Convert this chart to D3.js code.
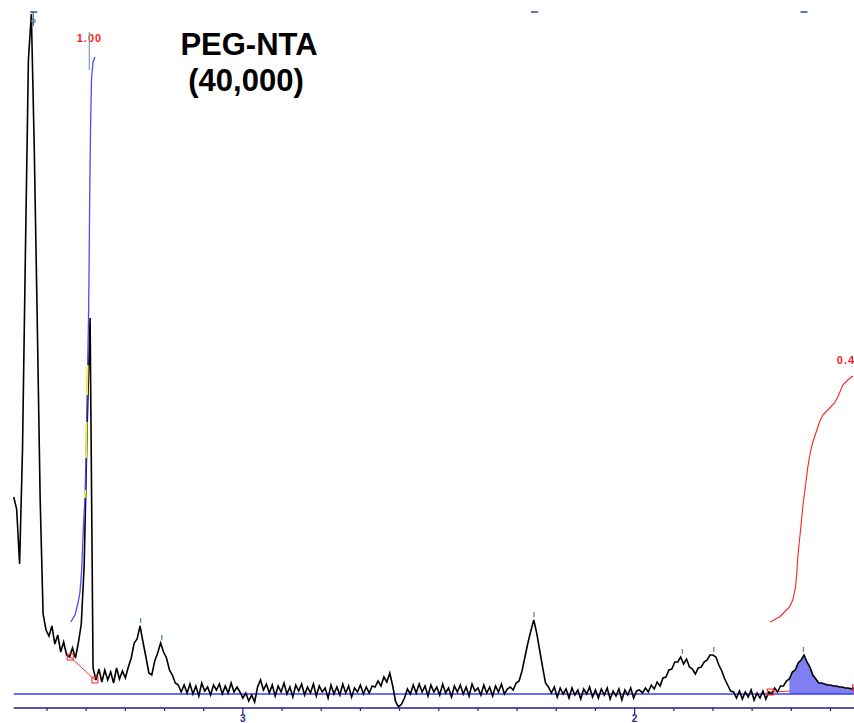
<!DOCTYPE html>
<html>
<head>
<meta charset="utf-8">
<script src="https://cdn.jsdelivr.net/npm/d3@7"></script>
<style>
  body { margin: 0; background: #fff; }
  svg { display: block; }
</style>
</head>
<body>
<div id="chart"></div>
<script>
// spectrum sampled every 0.0075 ppm starting at 3.585 ppm
var ppmStart = 3.585, ppmStep = 0.0075;
var intensity = [
  197,185,130,245,445,634,680,545,375,195,
  80,64,58,68,50,59,42,52,39,37,
  46,36,51,70,130,270,376,26,14,25,
  12,24,14,22,11,26,15,23,16,27,
  36,51,55,68,52,37,21,19,33,41,
  51,42,36,24,19,11,9,2,9,1,
  10,0,8,-2,11,3,7,-1,9,4,
  10,0,8,1,11,2,7,2,-4,1,
  -7,-1,-8,7,14,4,10,1,9,-2,
  8,2,11,0,7,-3,9,3,10,-1,
  7,1,10,-2,8,2,6,-4,9,0,
  7,-1,10,1,8,-3,6,2,9,0,
  7,1,8,7,13,8,17,12,21,8,
  -8,-13,-10,-4,5,0,9,1,10,2,
  8,-2,9,2,7,-1,10,1,6,-3,
  8,2,9,0,7,-2,10,3,6,-1,
  9,1,7,-2,8,2,10,0,5,7,
  4,11,13,23,37,51,63,74,61,44,
  27,11,7,1,7,-3,6,0,5,-4,
  6,-1,4,-5,5,0,7,-3,4,-4,
  5,-1,6,-5,3,-2,5,-6,4,-1,
  6,-4,3,4,1,6,2,9,5,12,
  8,16,17,24,25,32,32,37,30,35,
  27,25,20,26,27,32,34,39,39,37,
  29,23,15,9,3,2,-4,3,-5,2,
  -3,4,-6,1,-4,3,-5,2,0,6,
  2,8,8,13,15,22,24,31,34,39,
  32,27,19,15,11,11,10,9,9,8,
  8,7,7,6,6,5,6
];

// integral curves (ppm, height)
var intA_ppm = [3.4395,3.4286,3.4209,3.4158,3.4115,3.4074,3.4031,3.4005,3.3987,3.3962,3.3941,3.3929,3.3911,3.3890,3.3865,3.3827,3.3776];
var intA_val = [72,79,91,102,124,164,197,234,274,331,374,414,494,564,614,632,637];
var intB_ppm = [1.6538,1.6301,1.6173,1.6046,1.5962,1.5893,1.5860,1.5834,1.5791,1.5747,1.5707,1.5663,1.5620,1.5579,1.5518,1.5452,1.5365,1.5281,1.5196,1.5069,1.4898,1.4814,1.4686,1.4559,1.4431];
var intB_val = [72,77,82,87,94,107,121,137,154,171,187,201,214,227,241,252,262,272,279,284,291,297,309,314,318];
var intLabels = ["1.00", "0.4"];
var regionA = [3.4408, 3.3776];
var regionB = [1.6538, 1.4362];
var fillFrom = 1.605;

var peakPicks = [3.261, 3.207, 2.257, 1.878, 1.798, 1.569];
var topPicks = [3.535, 2.257, 1.569];
var tickValues = d3.range(35, 14, -1).map(function(d){ return d / 10; });

var W = 854, H = 723;
var svg = d3.select("#chart").append("svg").attr("width", W).attr("height", H);
svg.append("rect").attr("width", W).attr("height", H).attr("fill", "#fff");

var x = d3.scaleLinear().domain([3.62, 1.44]).range([0, W]);
var y = d3.scaleLinear().domain([0, 680]).range([694, 14]);

var pts = intensity.map(function(v, i){ return [ppmStart - i * ppmStep, v]; });
function valueAt(p){
  var i = Math.round((ppmStart - p) / ppmStep);
  i = Math.max(0, Math.min(intensity.length - 1, i));
  return intensity[i];
}
function peakAt(p){
  var i = Math.round((ppmStart - p) / ppmStep);
  return d3.max([intensity[i-1], intensity[i], intensity[i+1]]);
}

// red integral region connectors
function square(p, v){
  svg.append("rect")
    .attr("x", x(p) - 3).attr("y", y(v) - 3)
    .attr("width", 6).attr("height", 6)
    .attr("fill", "none").attr("stroke", "#ff2020").attr("stroke-width", 1);
}
[regionA, regionB].forEach(function(r){
  svg.append("line")
    .attr("x1", x(r[0])).attr("y1", y(valueAt(r[0])))
    .attr("x2", x(r[1])).attr("y2", y(valueAt(r[1])))
    .attr("stroke", "#ff3030").attr("stroke-width", 1);
});

// filled peak
var fillPts = pts.filter(function(d){ return d[0] <= fillFrom; });
svg.append("path")
  .datum(fillPts)
  .attr("fill", "#7f7ff2")
  .attr("d", d3.area()
    .x(function(d){ return x(d[0]); })
    .y0(y(0))
    .y1(function(d){ return y(Math.max(d[1], 0)); }));

// baseline
svg.append("line")
  .attr("x1", x(ppmStart)).attr("x2", W)
  .attr("y1", y(0)).attr("y2", y(0))
  .attr("stroke", "#3a3aff").attr("stroke-width", 1.5);

// spectrum
svg.append("path")
  .datum(pts)
  .attr("fill", "none")
  .attr("stroke", "#000")
  .attr("stroke-width", 1.6)
  .attr("stroke-linejoin", "miter")
  .attr("d", d3.line().x(function(d){ return x(d[0]); }).y(function(d){ return y(d[1]); }));

square(regionA[0], valueAt(regionA[0]));
square(regionA[1], valueAt(regionA[1]));
square(regionB[0], valueAt(regionB[0]));
square(regionB[1], valueAt(regionB[1]));

// integrals
var line = d3.line().x(function(d){ return x(d[0]); }).y(function(d){ return y(d[1]); });
svg.append("path")
  .datum(d3.zip(intA_ppm, intA_val))
  .attr("fill", "none").attr("stroke", "#4a4aff").attr("stroke-width", 1.3)
  .attr("d", line);
var ppmOfVal = d3.scaleLinear().domain(intA_val).range(intA_ppm);
[[236, 272], [299, 329], [196, 204]].forEach(function(s){
  svg.append("line")
    .attr("x1", x(ppmOfVal(s[0]))).attr("y1", y(s[0]))
    .attr("x2", x(ppmOfVal(s[1]))).attr("y2", y(s[1]))
    .attr("stroke", "#f2f23a").attr("stroke-width", 1.8);
});
svg.append("path")
  .datum(d3.zip(intB_ppm, intB_val))
  .attr("fill", "none").attr("stroke", "#ff2020").attr("stroke-width", 1.1)
  .attr("d", line);

svg.append("text")
  .attr("x", x(intA_ppm[0]) + 6).attr("y", 42)
  .attr("font-family", "Liberation Sans, Arial, sans-serif")
  .attr("font-weight", "bold").attr("font-size", 11)
  .attr("letter-spacing", 1)
  .attr("fill", "#ff1a1a").text(intLabels[0]);
svg.append("text")
  .attr("x", x(intB_ppm[intB_ppm.length - 1]) - 16).attr("y", 364)
  .attr("font-family", "Liberation Sans, Arial, sans-serif")
  .attr("font-weight", "bold").attr("font-size", 11)
  .attr("letter-spacing", 1)
  .attr("fill", "#ff1a1a").text(intLabels[1]);

// peak pick marks
peakPicks.forEach(function(p){
  var v = peakAt(p);
  svg.append("line")
    .attr("x1", x(p)).attr("x2", x(p))
    .attr("y1", y(v + 3)).attr("y2", y(v + 8))
    .attr("stroke", "#5a84b8").attr("stroke-width", 1.3);
});
topPicks.forEach(function(p){
  svg.append("line")
    .attr("x1", x(p) - 3).attr("x2", x(p) + 4)
    .attr("y1", 12).attr("y2", 12)
    .attr("stroke", "#1f4f8f").attr("stroke-width", 1.5);
});
svg.append("line")
  .attr("x1", x(topPicks[0])).attr("x2", x(topPicks[0]))
  .attr("y1", 12).attr("y2", 26)
  .attr("stroke", "#3f6fa8").attr("stroke-width", 1.2);
svg.append("circle")
  .attr("cx", x(topPicks[0])).attr("cy", 21).attr("r", 2)
  .attr("fill", "none").attr("stroke", "#2f5f98").attr("stroke-width", 1);
svg.append("line")
  .attr("x1", x(3.392)).attr("x2", x(3.392))
  .attr("y1", 32).attr("y2", 70)
  .attr("stroke", "#7f9bb8").attr("stroke-width", 1.2);

// axis
var axisY = 708;
svg.append("line")
  .attr("x1", x(ppmStart)).attr("x2", W)
  .attr("y1", axisY).attr("y2", axisY)
  .attr("stroke", "#1e1e8c").attr("stroke-width", 1.3);
var ax = svg.append("g").attr("transform", "translate(0," + axisY + ")");
ax.selectAll("line.tick").data(tickValues).enter().append("line")
  .attr("x1", function(d){ return x(d); }).attr("x2", function(d){ return x(d); })
  .attr("y1", 0)
  .attr("y2", function(d){ return Math.abs(d - Math.round(d)) < 1e-6 ? 6 : 3; })
  .attr("stroke", "#1e1e8c").attr("stroke-width", 1.2);
ax.selectAll("text").data(tickValues.filter(function(d){ return Math.abs(d - Math.round(d)) < 1e-6; }))
  .enter().append("text")
  .attr("x", function(d){ return x(d); }).attr("y", 14)
  .attr("text-anchor", "middle")
  .attr("font-family", "Liberation Sans, Arial, sans-serif")
  .attr("font-weight", "bold").attr("font-size", 10)
  .attr("fill", "#2a2a90")
  .text(function(d){ return d3.format("d")(d); });

// title
var title = svg.append("text")
  .attr("font-family", "Liberation Sans, Arial, sans-serif")
  .attr("font-weight", "bold").attr("font-size", 31)
  .attr("fill", "#000").attr("text-anchor", "middle");
title.append("tspan").attr("x", 249).attr("y", 55).text("PEG-NTA");
title.append("tspan").attr("x", 246).attr("y", 91).text("(40,000)");
</script>
</body>
</html>
